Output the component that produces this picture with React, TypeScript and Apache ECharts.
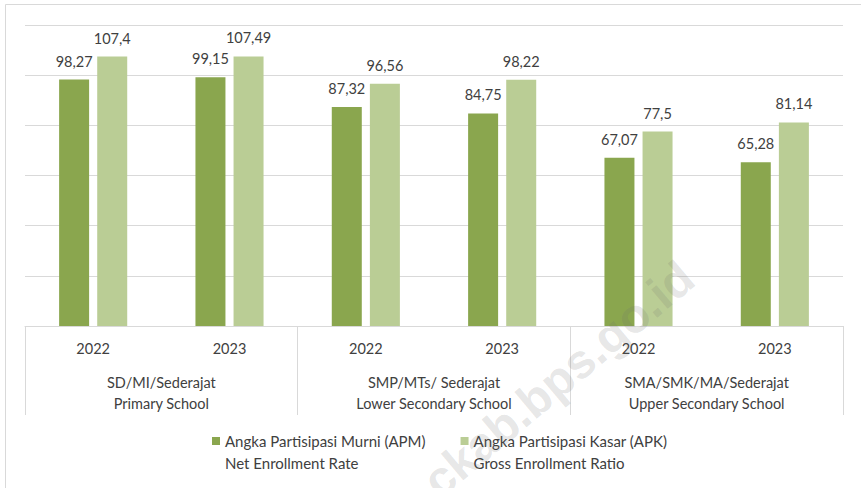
import React, { useEffect, useRef } from "react";
import * as echarts from "echarts";

const years = ["2022", "2023", "2022", "2023", "2022", "2023"];
const groups = [
  "SD/MI/Sederajat\nPrimary School",
  "SMP/MTs/ Sederajat\nLower Secondary School",
  "SMA/SMK/MA/Sederajat\nUpper Secondary School",
];
const apmName = "Angka Partisipasi Murni (APM)";
const apkName = "Angka Partisipasi Kasar (APK)";
const apmSub = "Net Enrollment Rate";
const apkSub = "Gross Enrollment Ratio";
const apmValues = [98.27, 99.15, 87.32, 84.75, 67.07, 65.28];
const apkValues = [107.4, 107.49, 96.56, 98.22, 77.5, 81.14];

const FONT = "Lato";
const TXT = "#404040";
const GRID = "#d9d9d9";

export default function App() {
  const ref = useRef<HTMLDivElement>(null);
  useEffect(() => {
    if (!ref.current) return;
    const chart = echarts.init(ref.current, null, { renderer: "svg" });
    const fmt = (p: any) => String(p.value).replace(".", ",");
    const subs: Record<string, string> = { [apmName]: apmSub, [apkName]: apkSub };
    chart.setOption({
      animation: false,
      backgroundColor: "#ffffff",
      textStyle: { fontFamily: FONT },
      grid: { left: 25, right: 18, top: 25, bottom: 162 },
      legend: {
        left: 212,
        top: 408,
        padding: 0,
        itemWidth: 8,
        itemHeight: 8,
        itemGap: 35,
        icon: "rect",
        data: [apmName, apkName],
        formatter: (name: string) => `\n${name}\n${subs[name]}`,
        textStyle: { fontFamily: FONT, fontSize: 15, color: TXT, lineHeight: 22 },
      },
      xAxis: [
        {
          type: "category",
          data: years,
          position: "bottom",
          axisLine: { show: true, lineStyle: { color: GRID, width: 1 } },
          axisTick: { show: false },
          axisLabel: { fontFamily: FONT, fontSize: 14.5, color: TXT, margin: 15 },
        },
        {
          type: "category",
          data: groups,
          position: "bottom",
          axisLine: { show: false },
          axisTick: { show: true, length: 89, interval: 0, lineStyle: { color: GRID, width: 1 } },
          axisLabel: { fontFamily: FONT, fontSize: 14.5, color: TXT, margin: 46, lineHeight: 21, interval: 0 },
        },
      ],
      yAxis: {
        type: "value",
        min: 0,
        max: 120,
        interval: 20,
        axisLabel: { show: false },
        axisLine: { show: false },
        axisTick: { show: false },
        splitLine: { lineStyle: { color: GRID, width: 1 } },
      },
      series: [
        {
          name: apmName,
          type: "bar",
          xAxisIndex: 0,
          data: apmValues,
          barWidth: 30,
          barGap: "27%",
          itemStyle: { color: "#8aa64e" },
          label: { show: true, position: "top", distance: 11, formatter: fmt, fontFamily: FONT, fontSize: 14.5, color: TXT },
        },
        {
          name: apkName,
          type: "bar",
          xAxisIndex: 0,
          data: apkValues,
          barWidth: 30,
          barGap: "27%",
          itemStyle: { color: "#bacd95" },
          label: { show: true, position: "top", distance: 11, formatter: fmt, fontFamily: FONT, fontSize: 14.5, color: TXT },
        },
      ],
      graphic: [
        {
          type: "rect",
          silent: true,
          shape: { x: 5.5, y: 4.5, width: 900, height: 600 },
          style: { fill: "none", stroke: GRID, lineWidth: 1 },
        },
        {
          type: "text",
          silent: true,
          x: 687,
          y: 271,
          rotation: 0.698,
          z: 100,
          style: {
            text: "ckab.bps.go.id",
            fontFamily: "Liberation Sans",
            fontWeight: "bold",
            fontSize: 48,
            fill: "rgba(110,110,110,0.18)",
            align: "right",
            verticalAlign: "middle",
          },
        },
      ],
    });
    return () => chart.dispose();
  }, []);
  return (
    <div
      ref={ref}
      style={{ position: "fixed", left: 0, top: 0, width: 861, height: 488 }}
    />
  );
}
